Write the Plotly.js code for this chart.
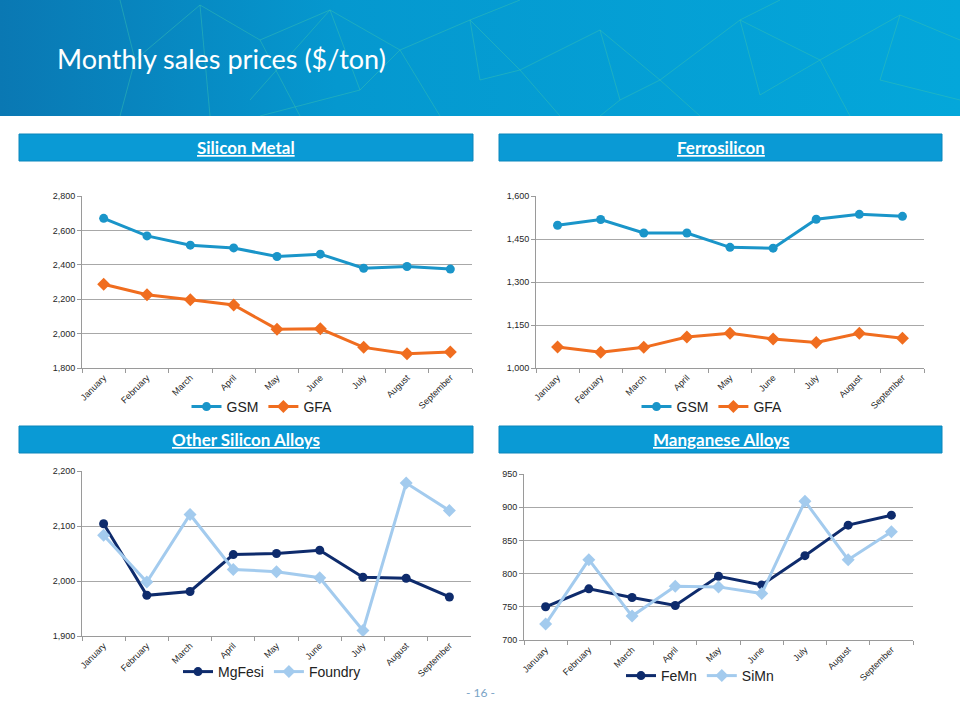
<!DOCTYPE html>
<html>
<head>
<meta charset="utf-8">
<script src="https://cdn.plot.ly/plotly-3.0.1.min.js"></script>
<style>html,body{margin:0;padding:0;background:#fff;}#chart{width:960px;height:720px;}</style>
</head>
<body>
<div id="chart"></div>
<script>
// ---- Data ----
const months = ["January","February","March","April","May","June","July","August","September"];

const siMetalGSM = [2670, 2568, 2514, 2498, 2448, 2462, 2380, 2390, 2375];
const siMetalGFA = [2287, 2226, 2197, 2166, 2026, 2028, 1920, 1883, 1893];

const feSiGSM = [1498, 1518, 1471, 1471, 1421, 1418, 1519, 1536, 1529];
const feSiGFA = [1073, 1055, 1072, 1108, 1121, 1101, 1089, 1121, 1104];

const mgFesi  = [2104, 1974, 1981, 2048, 2050, 2056, 2007, 2005, 1971];
const foundry = [2083, 1998, 2121, 2021, 2017, 2006, 1910, 2178, 2128];

const feMn = [750, 777, 764, 752, 796, 783, 827, 873, 888];
const siMn = [724, 821, 736, 781, 780, 770, 909, 821, 863];

const sectionTitles = ["Silicon Metal", "Ferrosilicon", "Other Silicon Alloys", "Manganese Alloys"];
const pageTitle = "Monthly sales prices ($/ton)";
const pageNumber = "- 16 -";

// ---- Styles ----
const C = {gsm:'#1a95c9', gfa:'#f06d1f', navy:'#0e2b6c', light:'#a3cbee'};
const W = 960, H = 720;
const px = v => v / W;
const py = v => 1 - v / H;

function line(x, y, name, color, symbol, xa, ya, leg) {
  return {
    type:'scatter', mode:'lines+markers', x:x, y:y, name:name,
    xaxis:xa, yaxis:ya, legend:leg,
    line:{color:color, width:3},
    marker:{color:color, symbol:symbol, size: symbol==='diamond'?10:9},
    hoverinfo:'skip'
  };
}

const data = [
  line(months, siMetalGSM, 'GSM', C.gsm, 'circle', 'x', 'y', 'legend'),
  line(months, siMetalGFA, 'GFA', C.gfa, 'diamond', 'x', 'y', 'legend'),
  line(months, feSiGSM, 'GSM', C.gsm, 'circle', 'x2', 'y2', 'legend2'),
  line(months, feSiGFA, 'GFA', C.gfa, 'diamond', 'x2', 'y2', 'legend2'),
  line(months, mgFesi, 'MgFesi', C.navy, 'circle', 'x3', 'y3', 'legend3'),
  line(months, foundry, 'Foundry', C.light, 'diamond', 'x3', 'y3', 'legend3'),
  line(months, feMn, 'FeMn', C.navy, 'circle', 'x4', 'y4', 'legend4'),
  line(months, siMn, 'SiMn', C.light, 'diamond', 'x4', 'y4', 'legend4')
];

const tickFont = {family:'Arial, Liberation Sans, sans-serif', size:9, color:'#262626'};

function xax(l, r, anchor) {
  return {
    domain:[px(l), px(r)], anchor:anchor, type:'category',
    range:[-0.5, 8.5], tickson:'boundaries', ticks:'outside', ticklen:4,
    tickcolor:'#9a9a9a', showline:true, linecolor:'#9a9a9a', linewidth:1,
    showgrid:false, zeroline:false, tickangle:-45,
    tickfont:tickFont, fixedrange:true
  };
}
function yax(top, bot, range, dtick, anchor) {
  return {
    domain:[py(bot), py(top)], anchor:anchor, range:range, dtick:dtick, tick0:range[0],
    tickformat:',d', showgrid:true, gridcolor:'#a8a8a8', gridwidth:1,
    showline:true, linecolor:'#9a9a9a', ticks:'outside', ticklen:4, tickcolor:'#9a9a9a',
    zeroline:false, tickfont:tickFont, fixedrange:true
  };
}
function legend(cx, cy) {
  return {
    orientation:'h', x:px(cx), y:py(cy), xanchor:'center', yanchor:'middle',
    bgcolor:'rgba(0,0,0,0)', font:{family:'Arial, Liberation Sans, sans-serif', size:14, color:'#222'},
    itemwidth:30, tracegroupgap:0, traceorder:'normal'
  };
}

// banner image (decorative background)
const bannerSvg = `<svg xmlns="http://www.w3.org/2000/svg" width="960" height="116" viewBox="0 0 960 116">
<defs><linearGradient id="g" x1="0" y1="0" x2="1" y2="0">
<stop offset="0" stop-color="#0a78b3"/><stop offset="0.35" stop-color="#0598cf"/><stop offset="1" stop-color="#04a7da"/></linearGradient></defs>
<rect width="960" height="116" fill="url(#g)"/>
<g stroke="#3cc3b0" stroke-opacity="0.45" stroke-width="1" fill="none">
<polyline points="120,0 135,60 120,116"/><polyline points="135,60 200,5 260,40 330,10 400,50 470,20 520,70 600,30 660,80 740,20 820,60 900,15 960,40"/>
<polyline points="200,5 210,116"/><polyline points="260,40 300,116"/><polyline points="330,10 360,90 260,116"/>
<polyline points="400,50 440,116"/><polyline points="470,20 480,80 520,70"/><polyline points="520,70 560,116"/>
<polyline points="600,30 620,100 660,80 700,116"/><polyline points="740,20 760,95 820,60 850,116"/>
<polyline points="900,15 880,80 960,100"/><polyline points="360,90 400,50"/><polyline points="620,100 600,116"/>
<polyline points="250,100 330,10"/><polyline points="520,0 470,20"/><polyline points="780,0 740,20"/>
</g></svg>`;
const bannerUri = 'data:image/svg+xml;base64,' + btoa(bannerSvg);

const bars = [
  {x0:19, x1:473, y0:134, y1:161, t:sectionTitles[0]},
  {x0:499, x1:942, y0:134, y1:161, t:sectionTitles[1]},
  {x0:19, x1:473, y0:426, y1:453, t:sectionTitles[2]},
  {x0:499, x1:942, y0:426, y1:453, t:sectionTitles[3]}
];

const shapes = bars.map(b => ({
  type:'rect', xref:'paper', yref:'paper', x0:px(b.x0), x1:px(b.x1), y0:py(b.y1), y1:py(b.y0),
  fillcolor:'#0a9ad5', line:{color:'#0b86bb', width:1}, layer:'below'
}));

const annotations = bars.map(b => ({
  xref:'paper', yref:'paper', x:px((b.x0+b.x1)/2), y:py((b.y0+b.y1)/2),
  xanchor:'center', yanchor:'middle', showarrow:false,
  text:'<b><span style="text-decoration:underline">' + b.t + '</span></b>',
  font:{family:'Lato, Open Sans, sans-serif', size:17, color:'#ffffff'}
}));
annotations.push({
  xref:'paper', yref:'paper', x:px(55), y:py(58), xanchor:'left', yanchor:'middle', showarrow:false,
  text:pageTitle, font:{family:'Lato, Open Sans, sans-serif', size:27, color:'#ffffff'}
});
annotations.push({
  xref:'paper', yref:'paper', x:px(480), y:py(692), xanchor:'center', yanchor:'middle', showarrow:false,
  text:pageNumber, font:{family:'Lato, Open Sans, sans-serif', size:12, color:'#7aa3c6'}
});

const layout = {
  width:W, height:H, margin:{l:0, r:0, t:0, b:0},
  paper_bgcolor:'#ffffff', plot_bgcolor:'rgba(0,0,0,0)',
  showlegend:true,
  xaxis: xax(82, 472, 'y'),  yaxis: yax(196, 368, [1800, 2800], 200, 'x'),
  xaxis2: xax(536, 924, 'y2'), yaxis2: yax(196, 368, [1000, 1600], 150, 'x2'),
  xaxis3: xax(82, 471, 'y3'), yaxis3: yax(471, 636, [1900, 2200], 100, 'x3'),
  xaxis4: xax(524, 913, 'y4'), yaxis4: yax(474, 640, [700, 950], 50, 'x4'),
  legend: legend(262, 407), legend2: legend(712, 407),
  legend3: legend(272, 672), legend4: legend(700, 676),
  shapes: shapes, annotations: annotations,
  images:[{source:bannerUri, xref:'paper', yref:'paper', x:0, y:1, sizex:1, sizey:116/720,
    xanchor:'left', yanchor:'top', sizing:'stretch', layer:'below'}]
};

Plotly.newPlot('chart', data, layout, {staticPlot:true, displayModeBar:false});
</script>
</body>
</html>
